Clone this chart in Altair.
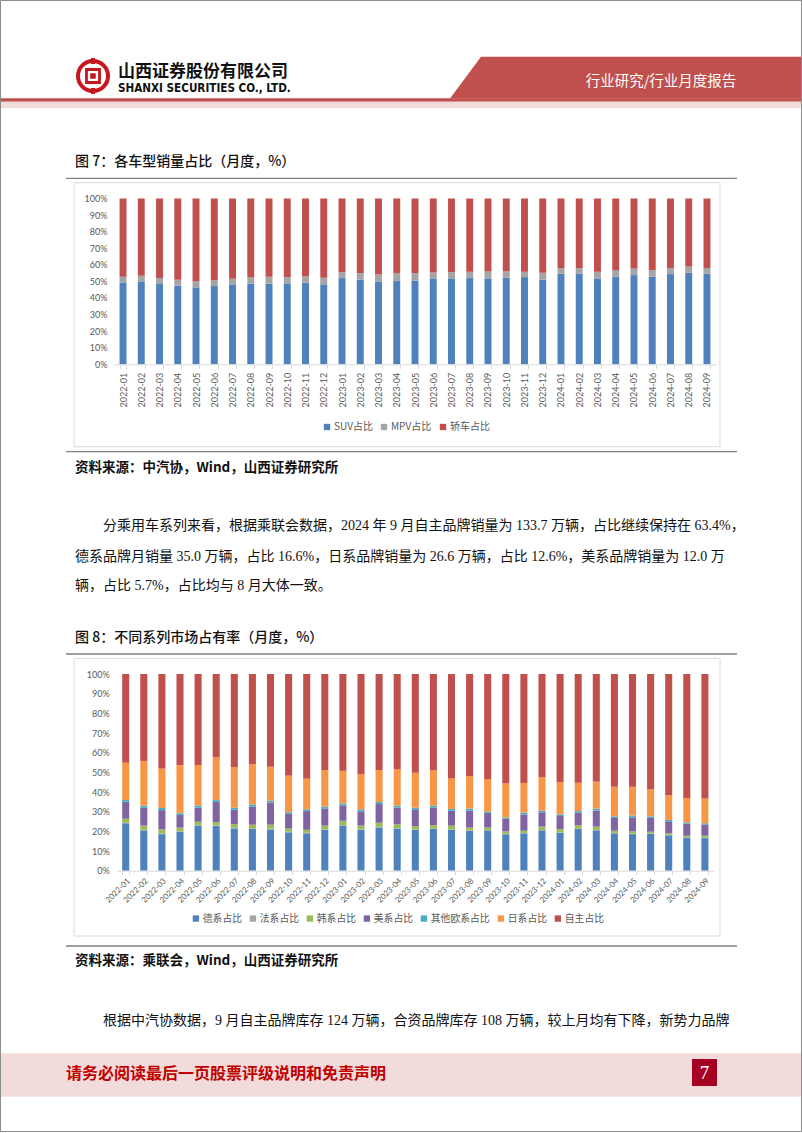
import altair as alt
import pandas as pd

# ---------------- data ----------------
months = ["2022-01", "2022-02", "2022-03", "2022-04", "2022-05", "2022-06", "2022-07", "2022-08",
          "2022-09", "2022-10", "2022-11", "2022-12", "2023-01", "2023-02", "2023-03", "2023-04",
          "2023-05", "2023-06", "2023-07", "2023-08", "2023-09", "2023-10", "2023-11", "2023-12",
          "2024-01", "2024-02", "2024-03", "2024-04", "2024-05", "2024-06", "2024-07", "2024-08",
          "2024-09"]

# Figure 7: vehicle type share (%)
types1 = ["SUV占比", "MPV占比", "轿车占比"]
suv_share = [49.4, 50.0, 48.4, 47.4, 46.4, 47.2, 48.2, 48.6, 48.6, 48.8, 49.2, 48.2,
             52.0, 51.0, 50.0, 50.2, 50.4, 51.8, 51.8, 52.0, 51.8, 52.2, 52.6, 51.0,
             54.6, 54.8, 51.8, 52.8, 53.8, 52.8, 54.4, 55.2, 54.6]
mpv_share = [3.4, 3.4, 3.6, 3.6, 3.6, 3.4, 3.4, 3.8, 4.2, 3.8, 3.8, 4.0,
             3.6, 4.0, 4.2, 4.8, 4.6, 3.6, 3.8, 3.8, 4.2, 3.8, 3.2, 4.2,
             3.4, 3.2, 4.0, 3.8, 3.9, 4.1, 3.7, 3.7, 3.5]
sedan_share = [47.2, 46.6, 48.0, 49.0, 50.0, 49.4, 48.4, 47.6, 47.2, 47.4, 47.0, 47.8,
               44.4, 45.0, 45.8, 45.0, 45.0, 44.6, 44.4, 44.2, 44.0, 44.0, 44.2, 44.8,
               42.0, 42.0, 44.2, 43.4, 42.3, 43.1, 41.9, 41.1, 41.9]
colors1 = ["#4F81BD", "#A5A5A5", "#C0504D"]

# Figure 8: market share by brand origin (%)
types2 = ["德系占比", "法系占比", "韩系占比", "美系占比", "其他欧系占比", "日系占比", "自主占比"]
de_share = [24.1, 20.5, 18.6, 19.7, 22.9, 22.7, 21.5, 21.2, 21.0, 19.5, 19.0, 20.7,
            22.9, 20.7, 22.0, 21.2, 20.7, 21.2, 20.8, 20.2, 20.5, 18.5, 19.0, 20.5,
            19.3, 21.2, 20.5, 19.0, 18.6, 18.8, 18.0, 16.8, 16.6]
fa_share = [0.3, 0.3, 0.3, 0.3, 0.3, 0.3, 0.3, 0.3, 0.3, 0.3, 0.3, 0.3,
            0.3, 0.3, 0.3, 0.3, 0.3, 0.3, 0.3, 0.3, 0.2, 0.2, 0.2, 0.2,
            0.2, 0.2, 0.2, 0.2, 0.2, 0.2, 0.2, 0.2, 0.2]
han_share = [2.0, 2.1, 2.1, 1.9, 1.7, 1.7, 1.9, 1.9, 2.1, 1.7, 1.5, 1.9,
             2.2, 1.9, 2.1, 2.1, 1.7, 1.6, 1.8, 1.4, 1.2, 1.3, 1.1, 1.7,
             1.7, 1.7, 1.7, 1.1, 1.2, 0.8, 0.8, 0.8, 1.0]
mei_share = [8.7, 9.1, 9.8, 6.4, 7.1, 10.2, 7.3, 9.1, 11.2, 7.3, 9.5, 8.6,
             7.8, 7.3, 9.5, 8.4, 8.5, 8.9, 7.6, 8.6, 7.4, 6.4, 8.3, 7.3,
             6.6, 6.4, 8.1, 6.5, 7.1, 7.0, 6.1, 6.1, 5.7]
oueu_share = [0.8, 1.1, 1.1, 0.9, 1.1, 1.0, 1.0, 1.2, 1.0, 0.9, 0.9, 1.0,
              1.0, 1.0, 1.0, 1.0, 0.8, 1.0, 0.9, 1.0, 0.7, 0.7, 0.9, 0.8,
              0.8, 0.8, 1.0, 0.8, 0.9, 0.8, 0.7, 0.7, 0.6]
ri_share = [19.0, 22.7, 20.0, 24.5, 20.6, 21.7, 20.7, 20.4, 17.3, 18.6, 15.6, 18.7,
            16.6, 17.8, 16.3, 18.6, 17.8, 18.0, 15.5, 16.6, 16.6, 17.3, 15.1, 17.0,
            16.5, 14.4, 13.8, 15.1, 14.7, 13.9, 12.5, 12.4, 12.6]
zizhu_share = [45.1, 44.2, 48.1, 46.3, 46.3, 42.4, 47.3, 45.9, 47.1, 51.7, 53.2, 48.8,
               49.2, 51.0, 48.8, 48.3, 50.2, 49.0, 53.1, 51.9, 53.4, 55.6, 55.4, 52.5,
               54.9, 55.3, 54.7, 57.3, 57.3, 58.5, 61.7, 63.2, 63.4]
colors2 = ["#4F81BD", "#A5A5A5", "#9BBB59", "#8064A2", "#4BACC6", "#F79646", "#C0504D"]

pct_ticks = [0, 0.1, 0.2, 0.3, 0.4, 0.5, 0.6, 0.7, 0.8, 0.9, 1.0]

# ---------------- tables ----------------
def long_table(types, arrays):
    rows = []
    for i, m in enumerate(months):
        for j, (t, arr) in enumerate(zip(types, arrays)):
            rows.append({"month": m, "type": t, "value": arr[i], "order": j})
    return pd.DataFrame(rows)

df1 = long_table(types1, [suv_share, mpv_share, sedan_share])
df2 = long_table(types2, [de_share, fa_share, han_share, mei_share, oueu_share, ri_share, zizhu_share])

W, H = 802, 1133
one = pd.DataFrame({"k": [0]})
CJK = "Noto Sans CJK SC"
SERIF = "Liberation Serif, Noto Sans CJK SC"
GRAY_TXT = "#595959"


def rect(x, x2, y, y2, **kw):
    return alt.Chart(one).mark_rect(**kw).encode(
        x=alt.value(x), x2=alt.value(x2), y=alt.value(y), y2=alt.value(y2))


def hline(x, x2, y, color="#808080", width=1.3):
    return alt.Chart(one).mark_rule(color=color, strokeWidth=width).encode(
        x=alt.value(x), x2=alt.value(x2), y=alt.value(y))


def text(s, x, y, **kw):
    kw.setdefault("align", "left")
    kw.setdefault("baseline", "middle")
    return alt.Chart(one).mark_text(text=s, **kw).encode(x=alt.value(x), y=alt.value(y))


def point(x, y, **kw):
    return alt.Chart(one).mark_point(**kw).encode(x=alt.value(x), y=alt.value(y))


# ---------------- page decorations ----------------
logo_red = "#C8161E"
head_red = "#C0504D"
deco = [
    # header
    rect(481, W, 56.7, 98.5, fill=head_red),
    point(465.5, 77.6, shape="M0.745,-1L0.745,1L-0.745,1Z", size=1730, filled=True,
          fill=head_red, strokeWidth=0, opacity=1),
    rect(0, W, 98.3, 101.7, fill=head_red),
    rect(0, W, 101.7, 108.3, fill="#F2DCDB"),
    point(93, 76, shape="circle", size=900, filled=False, stroke=logo_red, strokeWidth=4, opacity=1),
    point(93, 76, shape="square", size=170, filled=False, stroke=logo_red, strokeWidth=2.8, opacity=1),
    point(93, 76, shape="square", size=30, filled=True, fill=logo_red, strokeWidth=0, opacity=1),
    rect(91, 95, 58, 64, fill=logo_red),
    rect(91, 95, 88, 94, fill=logo_red),
    text("山西证券股份有限公司", 118, 72.3, font=CJK, fontSize=17, fontWeight="bold", color="#111111"),
    text("SHANXI SECURITIES CO., LTD.", 118, 88.8, font="Liberation Sans Narrow, DejaVu Sans Condensed, Roboto",
         fontSize=11.6, fontWeight="bold", color="#111111"),
    text("行业研究/行业月度报告", 661, 81.7, align="center", font=CJK, fontSize=14.5, color="white"),
    # figure 7 frame
    text("图 7：各车型销量占比（月度，%）", 75, 161.7, font=CJK, fontSize=14, fontWeight=500, color="#111111"),
    hline(66, 737, 178.3),
    rect(74, 720, 182.7, 446.7, fill="transparent", stroke="#D9D9D9", strokeWidth=1),
    hline(66, 737, 451.7),
    text("资料来源：中汽协，Wind，山西证券研究所", 75, 468.3, font=CJK, fontSize=13.5, fontWeight="bold",
         color="#111111"),
    # paragraph 1
    text("分乘用车系列来看，根据乘联会数据，2024 年 9 月自主品牌销量为 133.7 万辆，占比继续保持在 63.4%，",
         103, 526, font=SERIF, fontSize=14, color="#111111"),
    text("德系品牌月销量 35.0 万辆，占比 16.6%，日系品牌销量为 26.6 万辆，占比 12.6%，美系品牌销量为 12.0 万",
         75, 556.5, font=SERIF, fontSize=14, color="#111111"),
    text("辆，占比 5.7%，占比均与 8 月大体一致。", 75, 586, font=SERIF, fontSize=14, color="#111111"),
    # figure 8 frame
    text("图 8：不同系列市场占有率（月度，%）", 75, 637.5, font=CJK, fontSize=14, fontWeight=500, color="#111111"),
    hline(66, 737, 654),
    rect(74, 720, 658.4, 936, fill="transparent", stroke="#D9D9D9", strokeWidth=1),
    hline(66, 737, 946),
    text("资料来源：乘联会，Wind，山西证券研究所", 75, 960.5, font=CJK, fontSize=13.5, fontWeight="bold",
         color="#111111"),
    # paragraph 2
    text("根据中汽协数据，9 月自主品牌库存 124 万辆，合资品牌库存 108 万辆，较上月均有下降，新势力品牌",
         103, 1021, font=SERIF, fontSize=14, color="#111111"),
    # footer
    rect(0, W, 1053.3, 1096.7, fill="#F2DCDB"),
    text("请务必阅读最后一页股票评级说明和免责声明", 66, 1073.5, font=CJK, fontSize=16, fontWeight="bold",
         color="#C00000"),
    rect(692, 717, 1059, 1086, fill="#A50021"),
    text("7", 704.5, 1073, align="center", font="Liberation Serif", fontSize=19, color="white"),
    # page border
    rect(0.5, W - 0.5, 0.5, H - 1.5, fill="transparent", stroke="#8C8C8C", strokeWidth=1),
]

# ---------------- figure 7 bars ----------------
y0_1, y1_1 = 364.3, 198.5
bars1 = alt.Chart(df1).mark_bar().encode(
    x=alt.X("month:N", sort=months, title=None,
            scale=alt.Scale(range=[113.9, 716.1], paddingInner=0.62, paddingOuter=0.31),
            axis=alt.Axis(orient="bottom", offset=y0_1 - H, labelAngle=-90, labelFont="Lato",
                          labelFontSize=9, labelColor=GRAY_TXT, domainColor="#D9D9D9", tickColor="#D9D9D9",
                          tickBand="extent", tickSize=4, labelPadding=4, grid=False, zindex=1)),
    y=alt.Y("value:Q", stack="normalize", title=None,
            scale=alt.Scale(domain=[0, 1], range=[y0_1, y1_1]),
            axis=alt.Axis(orient="left", offset=-113.9, values=pct_ticks, format=".0%", domain=False,
                          ticks=False, grid=False, labelPadding=7, labelFont="Lato", labelFontSize=9,
                          labelColor=GRAY_TXT, zindex=1)),
    color=alt.Color("type:N", scale=alt.Scale(domain=types1, range=colors1),
                    legend=alt.Legend(orient="none", legendX=322, legendY=422, direction="horizontal",
                                      columns=3, title=None, symbolType="square", symbolSize=40,
                                      symbolStrokeWidth=0, labelFont=CJK, labelFontSize=10,
                                      labelColor=GRAY_TXT, columnPadding=6, labelOffset=2, padding=0)),
    order=alt.Order("order:Q"),
)

# ---------------- figure 8 bars ----------------
y0_2, y1_2 = 870.7, 674.0
bars2 = alt.Chart(df2).mark_bar().encode(
    x=alt.X("month:N", sort=months, title=None,
            scale=alt.Scale(range=[116.65, 713.95], paddingInner=0.61, paddingOuter=0.305),
            axis=alt.Axis(orient="bottom", offset=y0_2 - H, labelAngle=-45, labelFont="Lato",
                          labelFontSize=8, labelColor=GRAY_TXT, domainColor="#D9D9D9", tickColor="#D9D9D9",
                          tickBand="extent", tickSize=4, labelPadding=2, grid=False, zindex=1)),
    y=alt.Y("value:Q", stack="normalize", title=None,
            scale=alt.Scale(domain=[0, 1], range=[y0_2, y1_2]),
            axis=alt.Axis(orient="left", offset=-116.65, values=pct_ticks, format=".0%", domain=False,
                          ticks=False, grid=False, labelPadding=7.5, labelFont="Lato", labelFontSize=9,
                          labelColor=GRAY_TXT, zindex=1)),
    color=alt.Color("type:N", scale=alt.Scale(domain=types2, range=colors2),
                    legend=alt.Legend(orient="none", legendX=191, legendY=913.5, direction="horizontal",
                                      columns=7, title=None, symbolType="square", symbolSize=40,
                                      symbolStrokeWidth=0, labelFont=CJK, labelFontSize=9.8,
                                      labelColor=GRAY_TXT, columnPadding=6, labelOffset=2, padding=0)),
    order=alt.Order("order:Q"),
)

chart = alt.layer(*deco, bars1, bars2).resolve_scale(
    x="independent", y="independent", color="independent"
).properties(
    width=W, height=H, autosize=alt.AutoSizeParams(type="none"), padding=0
).configure_view(strokeWidth=0).configure(background="white")

chart.save("out.html", embed_options={"renderer": "svg", "actions": False})
